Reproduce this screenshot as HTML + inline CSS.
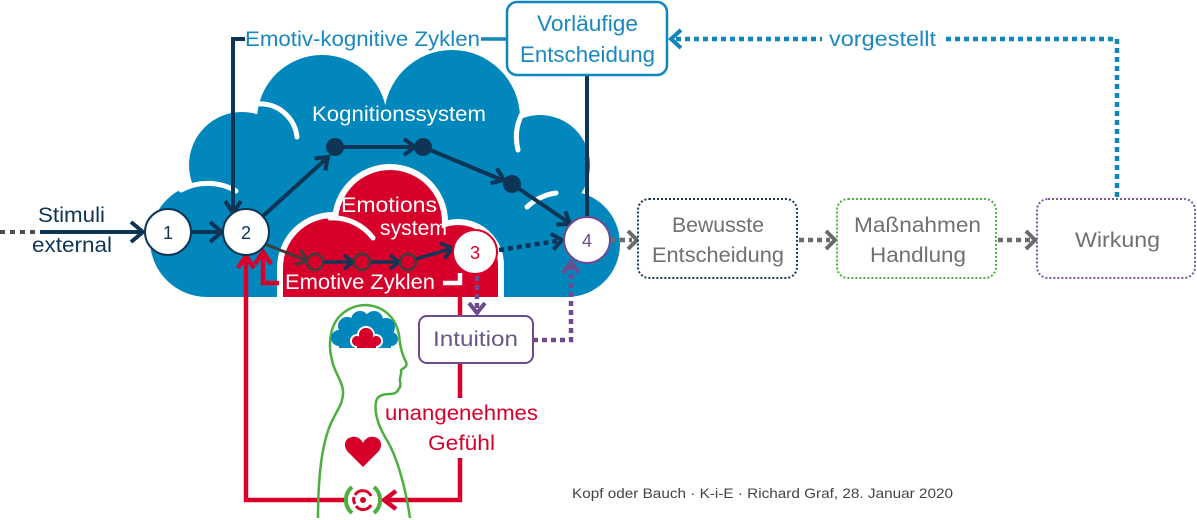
<!DOCTYPE html>
<html>
<head>
<meta charset="utf-8">
<style>
  html,body{margin:0;padding:0;background:#fff;}
  body{width:1197px;height:520px;overflow:hidden;}
  svg{display:block;}
  text{font-family:"Liberation Sans","DejaVu Sans",sans-serif;}
</style>
</head>
<body>
<svg width="1197" height="520" viewBox="0 0 1197 520" xmlns="http://www.w3.org/2000/svg">
  <defs>
    <clipPath id="cb"><rect x="0" y="0" width="1197" height="297"/></clipPath>
    <clipPath id="brainclip"><rect x="320" y="300" width="90" height="48"/></clipPath>
  </defs>

  <!-- Blue cloud -->
  <g fill="#0287bc" clip-path="url(#cb)">
    <circle cx="207" cy="240" r="57"/>
    <circle cx="242" cy="165" r="53"/>
    <circle cx="322" cy="120" r="65"/>
    <circle cx="452" cy="118" r="68"/>
    <circle cx="540" cy="165" r="50"/>
    <circle cx="567" cy="244" r="53"/>
    <rect x="207" y="150" width="360" height="147"/>
    <rect x="290" y="110" width="220" height="187"/>
  </g>
  <!-- blue cloud creases -->
  <g fill="none" stroke="#fff" stroke-width="5" stroke-linecap="round">
    <path d="M181,190 A57,57 0 0,1 236,191"/>
    <path d="M258,104 A37,37 0 0,1 297,137"/>
    <path d="M523,112 Q513,130 518,150"/>
    <path d="M527,207 A53,53 0 0,1 556,193"/>
  </g>

  <!-- Red cloud with white outline -->
  <g fill="#fff" clip-path="url(#cb)">
    <circle cx="333" cy="268" r="56"/>
    <circle cx="390" cy="222" r="58"/>
    <circle cx="458" cy="265" r="46"/>
    <rect x="300" y="240" width="170" height="40"/>
    <rect x="277" y="268" width="227" height="40"/>
  </g>
  <g fill="#d6002a" clip-path="url(#cb)">
    <circle cx="333" cy="268" r="50"/>
    <circle cx="390" cy="222" r="52"/>
    <circle cx="458" cy="265" r="40"/>
    <rect x="300" y="240" width="170" height="40"/>
    <rect x="283" y="268" width="215" height="40"/>
  </g>
  <path d="M330,218 A50,50 0 0,1 373,238" fill="none" stroke="#fff" stroke-width="5" stroke-linecap="round"/>

  <!-- Stimuli arrow -->
  <line x1="0" y1="232" x2="40" y2="232" stroke="#4d4d4d" stroke-width="4" stroke-dasharray="5 5"/>
  <line x1="40" y1="232" x2="141" y2="232" stroke="#0e3556" stroke-width="4"/>
  <polyline points="131,222 143,232 131,242" fill="none" stroke="#0e3556" stroke-width="4"/>
  <text x="38" y="222" font-size="21" fill="#0e3556" textLength="67" lengthAdjust="spacingAndGlyphs">Stimuli</text>
  <text x="32" y="252" font-size="21" fill="#0e3556" textLength="80" lengthAdjust="spacingAndGlyphs">external</text>

  <!-- 1 -> 2 -->
  <line x1="192" y1="232" x2="220" y2="232" stroke="#0e3556" stroke-width="4"/>
  <polyline points="210,222 222,232 210,242" fill="none" stroke="#0e3556" stroke-width="4"/>

  <!-- Emotiv-kognitive line -->
  <path d="M245,39 H233 V211" fill="none" stroke="#0e3556" stroke-width="4"/>
  <polyline points="225,201 233,213 241,201" fill="none" stroke="#0e3556" stroke-width="4"/>
  <text x="245" y="46" font-size="21" fill="#1a88c0" textLength="235" lengthAdjust="spacingAndGlyphs">Emotiv-kognitive Zyklen</text>
  <line x1="481" y1="39" x2="508" y2="39" stroke="#1186bd" stroke-width="3.5"/>

  <!-- Vorläufige Entscheidung box -->
  <line x1="587" y1="74" x2="587" y2="218" stroke="#0e3556" stroke-width="4"/>
  <rect x="507" y="2" width="160" height="73" rx="10" fill="#fff" stroke="#1186bd" stroke-width="2.5"/>
  <text x="537" y="31" font-size="22" fill="#1a88c0" textLength="101" lengthAdjust="spacingAndGlyphs">Vorläufige</text>
  <text x="520" y="62" font-size="22" fill="#1a88c0" textLength="135" lengthAdjust="spacingAndGlyphs">Entscheidung</text>

  <!-- vorgestellt dotted feedback -->
  <path d="M1117,197 V39 H675" fill="none" stroke="#1186bd" stroke-width="4.5" stroke-dasharray="5 4"/>
  <rect x="822" y="26" width="120" height="28" fill="#fff"/>
  <text x="829" y="46" font-size="21" fill="#1a88c0" textLength="107" lengthAdjust="spacingAndGlyphs">vorgestellt</text>
  <polyline points="681,30 671,39 681,48" fill="none" stroke="#1186bd" stroke-width="4"/>

  <!-- Kognitionssystem -->
  <text x="312" y="121" font-size="21" fill="#fff" textLength="174" lengthAdjust="spacingAndGlyphs">Kognitionssystem</text>
  <g stroke="#0e3556" stroke-width="4" fill="none">
    <line x1="263" y1="216" x2="326" y2="159"/>
    <polyline points="314.5,158.5 328,157 325.3,170.3"/>
    <line x1="335" y1="147" x2="413" y2="147"/>
    <polyline points="404,139 415,147 404,155"/>
    <line x1="423" y1="147" x2="502" y2="180"/>
    <polyline points="490.7,183.2 504,180 496.9,168.4"/>
    <line x1="512" y1="184" x2="568" y2="222"/>
    <polyline points="556.4,224.5 570,224 565.4,211.3"/>
  </g>
  <g fill="#0e3556">
    <circle cx="335" cy="147" r="9"/>
    <circle cx="423" cy="147" r="9"/>
    <circle cx="512" cy="184" r="9"/>
  </g>

  <!-- Emotions system texts -->
  <text x="341" y="212" font-size="21" fill="#fff" textLength="96" lengthAdjust="spacingAndGlyphs">Emotions</text>
  <text x="380" y="235" font-size="21" fill="#fff" textLength="67" lengthAdjust="spacingAndGlyphs">system</text>

  <!-- Emotive cycle path -->
  <line x1="265" y1="244" x2="305" y2="260" stroke="#3d3d3d" stroke-width="3"/>
  <polyline points="294.7,264.7 307,261 300.7,249.9" fill="none" stroke="#3d3d3d" stroke-width="3"/>
  <g stroke="#0e3556" stroke-width="3.5" fill="none">
    <line x1="323" y1="262" x2="352" y2="262"/>
    <polyline points="344,255 353,262 344,269"/>
    <line x1="370" y1="262" x2="398" y2="262"/>
    <polyline points="390,255 399,262 390,269"/>
    <line x1="416" y1="259" x2="450" y2="249"/>
    <polyline points="444.7,258.6 452,248 440.1,243.2"/>
  </g>
  <g fill="#d6002a" stroke="#3d3d3d" stroke-width="2.5">
    <circle cx="315" cy="262" r="8"/>
    <circle cx="362" cy="262" r="8"/>
    <circle cx="408" cy="262" r="8"/>
  </g>
  <text x="285" y="289" font-size="21" fill="#fff" textLength="150" lengthAdjust="spacingAndGlyphs">Emotive Zyklen</text>

  <!-- 3 -> 4 dotted -->
  <line x1="499" y1="250" x2="557" y2="241" stroke="#0e3556" stroke-width="4.5" stroke-dasharray="5 4"/>
  <polyline points="553.5,249.6 562,240 550.7,233.8" fill="none" stroke="#0e3556" stroke-width="4"/>

  <!-- red feedback lines -->
  <g stroke="#d6002a" stroke-width="4.5" fill="none">
    <path d="M344,500 H246 V258"/>
    <polyline points="238,268 246,256 254,268"/>
    <path d="M279,283 H263 V254"/>
    <polyline points="255,264 263,252 271,264"/>
    <path d="M460,297 V398"/>
    <path d="M460,458 V500 H386"/>
    <polyline points="396,491 384,500 396,509"/>
  </g>
  <path d="M443,283 H460 V273" fill="none" stroke="#fff" stroke-width="4.5"/>

  <!-- purple dotted -->
  <line x1="477" y1="276" x2="477" y2="309" stroke="#6e4b8e" stroke-width="4.5" stroke-dasharray="5 4"/>
  <polyline points="469,303 477,313 485,303" fill="none" stroke="#6e4b8e" stroke-width="4"/>
  <path d="M533,340 H571 V266" fill="none" stroke="#6e4b8e" stroke-width="4.5" stroke-dasharray="5 4"/>
  <polyline points="563,273 571,262 579,273" fill="none" stroke="#6e4b8e" stroke-width="4"/>

  <!-- Intuition box -->
  <rect x="419" y="316" width="114" height="47" rx="8" fill="#fff" stroke="#6e4b8e" stroke-width="2"/>
  <text x="433" y="346" font-size="21" fill="#6a5688" textLength="85" lengthAdjust="spacingAndGlyphs">Intuition</text>

  <!-- nodes -->
  <circle cx="168" cy="232" r="23" fill="#fff" stroke="#0e3556" stroke-width="2"/>
  <circle cx="246" cy="232" r="23" fill="#fff" stroke="#0e3556" stroke-width="2"/>
  <circle cx="475" cy="252" r="22" fill="#fff" stroke="#d6002a" stroke-width="2"/>
  <circle cx="587" cy="240" r="23" fill="#fff" stroke="#6e4b8e" stroke-width="2"/>
  <text x="168" y="239" font-size="18" fill="#0e3556" text-anchor="middle">1</text>
  <text x="246" y="239" font-size="18" fill="#0e3556" text-anchor="middle">2</text>
  <text x="475" y="259" font-size="18" fill="#d6002a" text-anchor="middle">3</text>
  <text x="587" y="247" font-size="18" fill="#6e4b8e" text-anchor="middle">4</text>

  <!-- gray dotted chain -->
  <g stroke="#6b6b6b" stroke-width="4.5" fill="none">
    <line x1="611" y1="240" x2="632" y2="240" stroke-dasharray="5 4"/>
    <polyline points="628,231 637,240 628,249" stroke-width="4"/>
    <line x1="799" y1="240" x2="830" y2="240" stroke-dasharray="5 4"/>
    <polyline points="826,231 835,240 826,249" stroke-width="4"/>
    <line x1="998" y1="240" x2="1030" y2="240" stroke-dasharray="5 4"/>
    <polyline points="1026,231 1035,240 1026,249" stroke-width="4"/>
  </g>

  <!-- right boxes -->
  <rect x="638" y="199" width="159" height="79" rx="11" fill="#fff" stroke="#1a3a5c" stroke-width="2" stroke-dasharray="2 2"/>
  <text x="672" y="232" font-size="21" fill="#707070" textLength="92" lengthAdjust="spacingAndGlyphs">Bewusste</text>
  <text x="652" y="262" font-size="21" fill="#707070" textLength="132" lengthAdjust="spacingAndGlyphs">Entscheidung</text>

  <rect x="837" y="199" width="159" height="79" rx="11" fill="#fff" stroke="#4caf3f" stroke-width="2" stroke-dasharray="2 2"/>
  <text x="854" y="232" font-size="21" fill="#707070" textLength="127" lengthAdjust="spacingAndGlyphs">Maßnahmen</text>
  <text x="870" y="262" font-size="21" fill="#707070" textLength="96" lengthAdjust="spacingAndGlyphs">Handlung</text>

  <rect x="1037" y="199" width="158" height="79" rx="11" fill="#fff" stroke="#7a5a9a" stroke-width="2" stroke-dasharray="2 2"/>
  <text x="1075" y="247" font-size="21" fill="#707070" textLength="85" lengthAdjust="spacingAndGlyphs">Wirkung</text>

  <!-- person -->
  <path d="M318,518 C318,490 320,452 329,428 C335,412 344,404 343,391 C342,380 334,372 332,360 C328,345 330,328 338,318 C346,309 356,305 366,305 C384,306 396,318 399,335 C400,345 401,352 406,362 C408,366 404,368 401,370 C402,375 399,378 400,381 C401,385 400,388 398,390 C397,393 393,394 390,394 C384,394 377,395 376,402 C374,413 378,426 388,442 C398,460 406,490 410,518"
        fill="none" stroke="#4caf3f" stroke-width="2.5" stroke-linejoin="round"/>
  <!-- brain -->
  <g clip-path="url(#brainclip)" fill="#0287bc">
    <circle cx="339" cy="338" r="8"/>
    <circle cx="347" cy="326" r="9"/>
    <circle cx="360" cy="320" r="9"/>
    <circle cx="374" cy="320" r="9"/>
    <circle cx="386" cy="327" r="9"/>
    <circle cx="391" cy="339" r="7"/>
    <rect x="339" y="328" width="52" height="20"/>
  </g>
  <g clip-path="url(#brainclip)" fill="#d6002a" stroke="#fff" stroke-width="2">
    <circle cx="357" cy="341" r="6"/>
    <circle cx="376" cy="341" r="6"/>
    <circle cx="366" cy="335" r="8"/>
  </g>
  <g clip-path="url(#brainclip)" fill="#d6002a">
    <circle cx="357" cy="341" r="5"/>
    <circle cx="376" cy="341" r="5"/>
    <circle cx="366" cy="335" r="7"/>
    <rect x="357" y="338" width="19" height="10"/>
  </g>
  <!-- heart -->
  <path d="M363,467 L348,452 C343,447 344,438 352,437 C357,436 361,439 363,443 C365,439 369,436 374,437 C382,438 383,447 378,452 Z" fill="#d6002a"/>
  <!-- target icon -->
  <path d="M352,487 A17,17 0 0,0 352,513" fill="none" stroke="#4caf3f" stroke-width="4"/>
  <path d="M374,487 A17,17 0 0,1 374,513" fill="none" stroke="#4caf3f" stroke-width="4"/>
  <path d="M355,495 A9,9 0 0,1 371,496" fill="none" stroke="#d6002a" stroke-width="3"/>
  <path d="M371,505 A9,9 0 0,1 356,506" fill="none" stroke="#d6002a" stroke-width="3"/>
  <path d="M354,497 A9,9 0 0,0 355,504" fill="none" stroke="#d6002a" stroke-width="3"/>
  <circle cx="363" cy="500" r="3" fill="#d6002a"/>

  <!-- unangenehmes Gefühl -->
  <text x="385" y="420" font-size="21" fill="#d6002a" textLength="153" lengthAdjust="spacingAndGlyphs">unangenehmes</text>
  <text x="428" y="450" font-size="21" fill="#d6002a" textLength="67" lengthAdjust="spacingAndGlyphs">Gefühl</text>

  <!-- footer -->
  <text x="572" y="498" font-size="14" fill="#444" textLength="381" lengthAdjust="spacingAndGlyphs">Kopf oder Bauch · K-i-E · Richard Graf, 28. Januar 2020</text>
</svg>
</body>
</html>
